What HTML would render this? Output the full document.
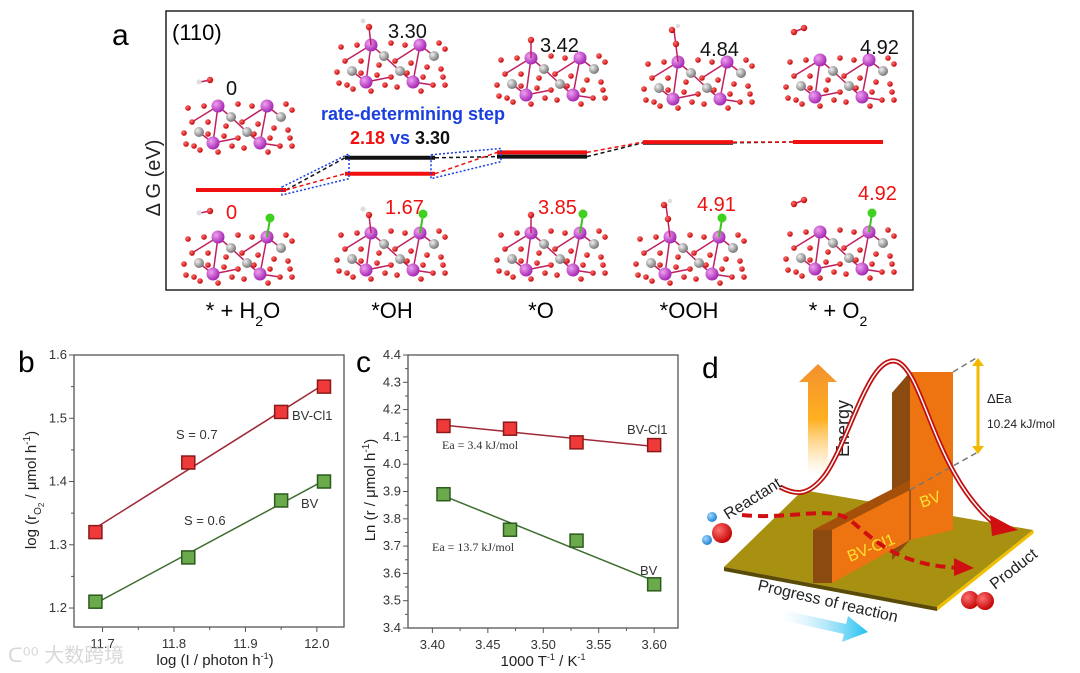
<!DOCTYPE html>
<html><head><meta charset="utf-8"><style>
html,body{margin:0;padding:0;background:#fff}
svg{display:block;font-family:"Liberation Sans",Arial,sans-serif}
</style></head><body>
<svg id="fig" width="1080" height="673" viewBox="0 0 1080 673" xmlns="http://www.w3.org/2000/svg">
<defs>
<radialGradient id="gp" cx="0.35" cy="0.35" r="0.7"><stop offset="0" stop-color="#f0a0f0"/><stop offset="1" stop-color="#a020b0"/></radialGradient>
<radialGradient id="gg" cx="0.35" cy="0.35" r="0.7"><stop offset="0" stop-color="#f0f0f0"/><stop offset="1" stop-color="#707070"/></radialGradient>
<radialGradient id="gr" cx="0.35" cy="0.35" r="0.7"><stop offset="0" stop-color="#ff7070"/><stop offset="1" stop-color="#c00000"/></radialGradient>
<radialGradient id="gb" cx="0.35" cy="0.35" r="0.7"><stop offset="0" stop-color="#9fd8ff"/><stop offset="1" stop-color="#1b7fd0"/></radialGradient>
<linearGradient id="energyGrad" x1="0" y1="1" x2="0" y2="0"><stop offset="0" stop-color="#ffd080" stop-opacity="0"/><stop offset="0.5" stop-color="#ffb020"/><stop offset="1" stop-color="#f39030"/></linearGradient>
<linearGradient id="progGrad" x1="0" y1="0" x2="1" y2="0"><stop offset="0" stop-color="#bfe6ff" stop-opacity="0"/><stop offset="1" stop-color="#1ec0f0"/></linearGradient>
</defs>

<!-- PANEL A -->
<g id="panelA">
<text x="112" y="45" font-size="30">a</text>
<rect x="166" y="11" width="747" height="279" fill="none" stroke="#222" stroke-width="1.5"/>
<text x="172" y="40" font-size="22">(110)</text>
<text transform="translate(160,178) rotate(-90)" font-size="20" text-anchor="middle" fill="#222">Δ G (eV)</text>
<g id="slabs"></g>
<g id="levels"></g>
<text x="413" y="120" font-size="18" font-weight="bold" fill="#1a3fe0" text-anchor="middle">rate-determining step</text>
<text x="400" y="144" font-size="18" font-weight="bold" text-anchor="middle"><tspan fill="#f01010">2.18</tspan><tspan fill="#1a3fe0"> vs </tspan><tspan fill="#111">3.30</tspan></text>
<g id="alabels" font-size="18"></g>
<g id="xcats" font-size="22" text-anchor="middle"></g>
</g>

<!-- PANEL B -->
<g id="panelB">
<text x="18" y="372" font-size="30">b</text>
</g>
<!-- PANEL C -->
<g id="panelC">
<text x="356" y="372" font-size="30">c</text>
</g>

<!-- PANEL D -->
<g id="panelD">
<text x="702" y="378" font-size="30">d</text>
<path d="M808,410 L808,382 L799,382 L818,364 L837,382 L828,382 L828,475 L808,475 Z" fill="url(#energyGrad)"/>
<text transform="translate(849,457) rotate(-90)" font-size="18" fill="#222">Energy</text>
<polygon points="724,567 803,490 1033,530 937,607" fill="#a89010"/>
<polygon points="724,567 937,607 937,611 724,571" fill="#5a4a08"/>
<polygon points="937,607 1033,530 1034,533 937,611" fill="#f0c000"/>
<!-- tall BV block -->
<polygon points="892,393 910,372 953,372 935,393" fill="#a5500a"/>
<polygon points="892,393 910,372 910,540 892,560" fill="#8a4a10"/>
<polygon points="910,372 953,372 953,530 910,540" fill="#ee7412"/>
<!-- low BV-Cl1 block -->
<polygon points="813,530 832,520 910,480 910,490 832,530" fill="#a5500a"/>
<polygon points="813,530 832,530 832,583 813,583" fill="#8a4a10"/>
<polygon points="832,530 910,490 910,540 832,583" fill="#ee7412"/>
<line x1="910" y1="490" x2="910" y2="540" stroke="#5a3008" stroke-width="1"/>
<text transform="translate(850,562) rotate(-22)" font-size="16" fill="#ffe030">BV-Cl1</text>
<text transform="translate(922,508) rotate(-20)" font-size="16" fill="#ffe030">BV</text>
<line x1="953" y1="372" x2="978" y2="357" stroke="#777" stroke-width="1.5" stroke-dasharray="6,4"/>
<line x1="910" y1="490" x2="978" y2="452" stroke="#777" stroke-width="1.5" stroke-dasharray="6,4"/>
<line x1="978" y1="362" x2="978" y2="450" stroke="#f5b800" stroke-width="3"/>
<polygon points="972,366 978,358 984,366" fill="#f5b800"/><polygon points="972,446 978,454 984,446" fill="#f5b800"/>
<text x="987" y="403" font-size="13" fill="#222">ΔEa</text>
<text x="987" y="428" font-size="12" fill="#222">10.24 kJ/mol</text>
<path d="M780,487 C795,495 808,497 825,475 C850,440 870,350 898,362 C925,375 935,480 1000,528" fill="none" stroke="#c01010" stroke-width="5"/>
<path d="M780,487 C795,495 808,497 825,475 C850,440 870,350 898,362 C925,375 935,480 1000,528" fill="none" stroke="#fff" stroke-width="1.5"/>
<polygon points="990,515 1018,530 992,536" fill="#d01010"/>
<path d="M742,515 C790,520 830,505 850,520 C880,545 900,565 960,568" fill="none" stroke="#d01010" stroke-width="4" stroke-dasharray="10,6"/>
<polygon points="954,558 974,568 954,576" fill="#d01010"/>
<text transform="translate(728,520) rotate(-32)" font-size="16" fill="#222">Reactant</text>
<text transform="translate(995,590) rotate(-38)" font-size="16" fill="#222">Product</text>
<text transform="translate(757,590) rotate(13)" font-size="16" fill="#222">Progress of reaction</text>
<path d="M783,610 L846,624 L848,616 L868,632 L842,642 L844,634 L781,620 Z" fill="url(#progGrad)"/>
<circle cx="712" cy="517" r="5" fill="url(#gb)"/><circle cx="707" cy="540" r="5" fill="url(#gb)"/><circle cx="722" cy="533" r="10" fill="url(#gr)"/>
<circle cx="970" cy="600" r="9" fill="url(#gr)"/><circle cx="985" cy="601" r="9" fill="url(#gr)"/>
</g>
<text x="8" y="662" font-size="20" fill="#d8d8d8" font-family="Liberation Sans,'Noto Sans CJK SC',sans-serif">ᑕ⁰⁰ 大数跨境</text>
</svg>
<script>
// ===== Panel a data =====
const aCategories = ["* + H2O","*OH","*O","*OOH","* + O2"];
const aBlack = [0, 3.30, 3.42, 4.84, 4.92];
const aRed = [0, 1.67, 3.85, 4.91, 4.92];
const aBlackLabels = ["0","3.30","3.42","4.84","4.92"];
const aRedLabels = ["0","1.67","3.85","4.91","4.92"];

// ===== Panel b data =====
const bX = [11.69, 11.82, 11.95, 12.01];
const bRed = [1.32, 1.43, 1.51, 1.55];
const bGreen = [1.21, 1.28, 1.37, 1.40];
const bXTicks = ["11.7","11.8","11.9","12.0"];
const bYTicks = ["1.2","1.3","1.4","1.5","1.6"];

// ===== Panel c data =====
const cX = [3.41, 3.47, 3.53, 3.60];
const cRed = [4.14, 4.13, 4.08, 4.07];
const cGreen = [3.89, 3.76, 3.72, 3.56];
const cXTicks = ["3.40","3.45","3.50","3.55","3.60"];
const cYTicks = ["3.4","3.5","3.6","3.7","3.8","3.9","4.0","4.1","4.2","4.3","4.4"];

const NS = "http://www.w3.org/2000/svg";
function mk(tag, attrs, parent){ const e=document.createElementNS(NS,tag); for(const k in attrs) e.setAttribute(k,attrs[k]); parent.appendChild(e); return e; }

// ---- Panel a ----
const aY = v => 190 - v*9.76;
const levelX0 = [196, 345, 497, 643, 793];
const levelW = 90;
const levels = document.getElementById('levels');
function drawSeries(vals, color, name){
  for(let i=0;i<vals.length;i++){
    const l = mk('line',{x1:levelX0[i],x2:levelX0[i]+levelW,y1:aY(vals[i]),y2:aY(vals[i]),stroke:color,'stroke-width':4},levels);
    
    
    if(i<vals.length-1){
      const d = mk('line',{x1:levelX0[i]+levelW,x2:levelX0[i+1],y1:aY(vals[i]),y2:aY(vals[i+1]),stroke:color,'stroke-width':1.5,'stroke-dasharray':'4,3'},levels);
      
      
    }
  }
}
drawSeries(aBlack,'#111','bv');
drawSeries(aRed,'#f01010','bvcl');
function hbox(i){
  const x1=levelX0[i]+levelW, x2=levelX0[i+1];
  const y1=aY(aBlack[i]), y2=aY(Math.max(aBlack[i+1],aRed[i+1]));
  const y1b=aY(aRed[i]), y2b=aY(Math.min(aBlack[i+1],aRed[i+1]));
  const p = mk('polygon',{points:`${x1-4},${Math.min(y1,y1b)-3} ${x2+4},${y2-4} ${x2+4},${y2b+5} ${x1-4},${Math.max(y1,y1b)+5}`,fill:'none',stroke:'#1a3fe0','stroke-width':1.5,'stroke-dasharray':'2,2'},levels);
  
  
}
hbox(0); hbox(1);

const slabs = document.getElementById('slabs');
const topOrig = [[180,100],[333,39],[493,52],[640,56],[782,54]];
const botOrig = [[180,231],[333,227],[493,227],[632,231],[782,226]];
const purp=[[38,6],[87,6],[33,43],[80,43]];
const gray=[[51,17],[101,17],[19,32],[67,32]];
const reds=[[8,8],[24,6],[58,4],[72,6],[106,4],[112,10],[4,33],[12,22],[28,22],[46,26],[62,22],[78,24],[94,28],[108,30],[110,38],[6,44],[14,46],[28,34],[44,36],[58,38],[74,34],[90,38],[100,46],[52,46],[64,48],[112,46],[38,52],[88,52],[20,50]];
function slab(ox,oy,cl,ads,name){
  const g = mk('g',{transform:`translate(${ox},${oy})`},slabs);
  
  
  [[38,6,51,17],[87,6,101,17],[33,43,19,32],[80,43,67,32],[38,6,33,43],[87,6,80,43],[51,17,67,32],[38,6,12,22],[87,6,62,22],[33,43,58,38],[80,43,100,46]].forEach(b=>mk('line',{x1:b[0],y1:b[1],x2:b[2],y2:b[3],stroke:'#c02060','stroke-width':1.5},g));
  reds.forEach(r=>mk('circle',{cx:r[0],cy:r[1],r:2.8,fill:'url(#gr)'},g));
  gray.forEach(r=>mk('circle',{cx:r[0],cy:r[1],r:5,fill:'url(#gg)'},g));
  purp.forEach(r=>mk('circle',{cx:r[0],cy:r[1],r:6.5,fill:'url(#gp)'},g));
  if(cl){ mk('line',{x1:87,y1:6,x2:90,y2:-12,stroke:'#40c020','stroke-width':2},g); mk('circle',{cx:90,cy:-13,r:4.5,fill:'#40d020'},g); }
  if(ads==='h2o'){ mk('line',{x1:20,y1:-18,x2:30,y2:-20,stroke:'#c02060','stroke-width':1.5},g); mk('circle',{cx:19,cy:-18,r:2.5,fill:'#ddd'},g); mk('circle',{cx:30,cy:-20,r:3.2,fill:'url(#gr)'},g);}
  if(ads==='oh'){ mk('line',{x1:38,y1:6,x2:36,y2:-12,stroke:'#c02060','stroke-width':1.5},g); mk('circle',{cx:36,cy:-12,r:3.2,fill:'url(#gr)'},g); mk('circle',{cx:30,cy:-18,r:2.5,fill:'#ddd'},g);}
  if(ads==='o'){ mk('line',{x1:38,y1:6,x2:38,y2:-12,stroke:'#c02060','stroke-width':1.5},g); mk('circle',{cx:38,cy:-12,r:3.2,fill:'url(#gr)'},g);}
  if(ads==='ooh'){ mk('line',{x1:38,y1:6,x2:34,y2:-26,stroke:'#c02060','stroke-width':1.5},g); mk('circle',{cx:36,cy:-12,r:3.2,fill:'url(#gr)'},g); mk('circle',{cx:32,cy:-26,r:3.2,fill:'url(#gr)'},g); mk('circle',{cx:38,cy:-30,r:2.2,fill:'#ddd'},g);}
  if(ads==='o2'){ mk('line',{x1:12,y1:-22,x2:22,y2:-26,stroke:'#c02060','stroke-width':1.5},g); mk('circle',{cx:12,cy:-22,r:3.2,fill:'url(#gr)'},g); mk('circle',{cx:22,cy:-26,r:3.2,fill:'url(#gr)'},g);}
}
const adsTypes=['h2o','oh','o','ooh','o2'];
for(let i=0;i<5;i++){ slab(topOrig[i][0],topOrig[i][1],false,adsTypes[i],'bv-structure-'+(i+1)); slab(botOrig[i][0],botOrig[i][1],true,adsTypes[i],'bvcl-structure-'+(i+1)); }
const alabels=document.getElementById('alabels');
const blackPos=[[226,95],[388,38],[540,52],[700,56],[860,54]];
const redPos=[[226,219],[385,214],[538,214],[697,211],[858,200]];
for(let i=0;i<5;i++){
  const t=mk('text',{x:blackPos[i][0],y:blackPos[i][1],fill:'#111','font-size':20},alabels); t.textContent=aBlackLabels[i];
   
  const r=mk('text',{x:redPos[i][0],y:redPos[i][1],fill:'#f01010','font-size':20},alabels); r.textContent=aRedLabels[i];
   
}
const xcats=document.getElementById('xcats');
const catX=[243,392,541,689,838];
const catHTML=['* + H<tspan font-size="14" dy="8">2</tspan><tspan dy="-8">O</tspan>','*OH','*O','*OOH','* + O<tspan font-size="14" dy="8">2</tspan>'];
for(let i=0;i<5;i++){
  const t=mk('text',{x:catX[i],y:318},xcats); t.innerHTML=catHTML[i];
  
  
}

function panel(gid, box, xr, yr, xs, xTickLabels, yTickLabels, xMinor, yMinor, series, prefix){
  const g=document.getElementById(gid);
  const X=v=>box.x+(v-xr[0])/(xr[1]-xr[0])*box.w;
  const Y=v=>box.y+box.h-(v-yr[0])/(yr[1]-yr[0])*box.h;
  const f=mk('rect',{x:box.x,y:box.y,width:box.w,height:box.h,fill:'none',stroke:'#555','stroke-width':1.3},g);
   
  xTickLabels.forEach(s=>{const v=parseFloat(s);const x=X(v);
    mk('line',{x1:x,x2:x,y1:box.y+box.h,y2:box.y+box.h+5,stroke:'#555'},g);
    const t=mk('text',{x:x,y:box.y+box.h+21,'text-anchor':'middle','font-size':13,fill:'#333'},g); t.textContent=s;
     });
  xMinor.forEach(v=>{const x=X(v);mk('line',{x1:x,x2:x,y1:box.y+box.h,y2:box.y+box.h+3,stroke:'#555'},g);});
  yTickLabels.forEach(s=>{const v=parseFloat(s);const y=Y(v);
    mk('line',{x1:box.x-5,x2:box.x,y1:y,y2:y,stroke:'#555'},g);
    const t=mk('text',{x:box.x-7,y:y+4,'text-anchor':'end','font-size':13,fill:'#333'},g); t.textContent=s;
     });
  yMinor.forEach(v=>{const y=Y(v);mk('line',{x1:box.x-3,x2:box.x,y1:y,y2:y,stroke:'#555'},g);});
  series.forEach(s=>{
    const n=xs.length; let mx=0,my=0; for(let i=0;i<n;i++){mx+=xs[i];my+=s.vals[i];} mx/=n; my/=n;
    let sxy=0,sxx=0; for(let i=0;i<n;i++){sxy+=(xs[i]-mx)*(s.vals[i]-my); sxx+=(xs[i]-mx)**2;}
    const k=sxy/sxx, b=my-k*mx;
    const l=mk('line',{x1:X(xs[0]),y1:Y(k*xs[0]+b),x2:X(xs[n-1]),y2:Y(k*xs[n-1]+b),stroke:s.line,'stroke-width':1.5},g);
     
    for(let i=0;i<n;i++){
      const r=mk('rect',{x:X(xs[i])-6.5,y:Y(s.vals[i])-6.5,width:13,height:13,fill:s.fill,stroke:s.stroke,'stroke-width':1.5},g);
       
    }
  });
}
panel('panelB',{x:74,y:355,w:270,h:272},[11.66,12.038],[1.17,1.6],bX,bXTicks,bYTicks,[11.75,11.85,11.95],[1.25,1.35,1.45,1.55],[
  {vals:bRed,fill:'#f03a3a',stroke:'#8a1a1a',line:'#a02838',name:'bvcl'},
  {vals:bGreen,fill:'#6aaa4a',stroke:'#2d5a1e',line:'#3d6e30',name:'bv'}],'b');
panel('panelC',{x:408,y:355,w:270,h:273},[3.378,3.6215],[3.4,4.4],cX,cXTicks,cYTicks,[3.425,3.475,3.525,3.575],[3.45,3.55,3.65,3.75,3.85,3.95,4.05,4.15,4.25,4.35],[
  {vals:cRed,fill:'#f03a3a',stroke:'#8a1a1a',line:'#a02838',name:'bvcl'},
  {vals:cGreen,fill:'#6aaa4a',stroke:'#2d5a1e',line:'#3d6e30',name:'bv'}],'c');

function txt(g,x,y,s,attrs,name){const t=mk('text',Object.assign({x:x,y:y},attrs),g); t.innerHTML=s;   return t;}
const gB=document.getElementById('panelB'), gC=document.getElementById('panelC');
txt(gB,176,439,'S = 0.7',{'font-size':13,fill:'#333'},'slope-label-bvcl');
txt(gB,184,525,'S = 0.6',{'font-size':13,fill:'#333'},'slope-label-bv');
txt(gB,292,420,'BV-Cl1',{'font-size':13,fill:'#333'},'series-label-bvcl-b');
txt(gB,301,508,'BV',{'font-size':13,fill:'#333'},'series-label-bv-b');
txt(gB,215,665,'log (I / photon h<tspan font-size="9" dy="-6">-1</tspan><tspan dy="6">)</tspan>',{'font-size':15,'text-anchor':'middle',fill:'#222'},'x-axis-title-b');
txt(gB,0,0,'log (r<tspan font-size="10" dy="5">O</tspan><tspan font-size="8" dy="3">2</tspan><tspan dy="-8"> / μmol h</tspan><tspan font-size="10" dy="-6">-1</tspan><tspan dy="6">)</tspan>',{'font-size':15,'text-anchor':'middle',fill:'#222',transform:'translate(36,490) rotate(-90)'},'y-axis-title-b');
txt(gC,627,434,'BV-Cl1',{'font-size':13,fill:'#333'},'series-label-bvcl-c');
txt(gC,640,575,'BV',{'font-size':13,fill:'#333'},'series-label-bv-c');
txt(gC,442,449,'Ea = 3.4 kJ/mol',{'font-size':12,fill:'#333','font-family':'Liberation Serif,serif'},'ea-label-bvcl');
txt(gC,432,551,'Ea = 13.7 kJ/mol',{'font-size':12,fill:'#333','font-family':'Liberation Serif,serif'},'ea-label-bv');
txt(gC,543,666,'1000 T<tspan font-size="9" dy="-6">-1</tspan><tspan dy="6"> / K</tspan><tspan font-size="9" dy="-6">-1</tspan>',{'font-size':15,'text-anchor':'middle',fill:'#222'},'x-axis-title-c');
txt(gC,0,0,'Ln (r / μmol h<tspan font-size="10" dy="-6">-1</tspan><tspan dy="6">)</tspan>',{'font-size':15,'text-anchor':'middle',fill:'#222',transform:'translate(375,490) rotate(-90)'},'y-axis-title-c');
</script>
</body></html>
